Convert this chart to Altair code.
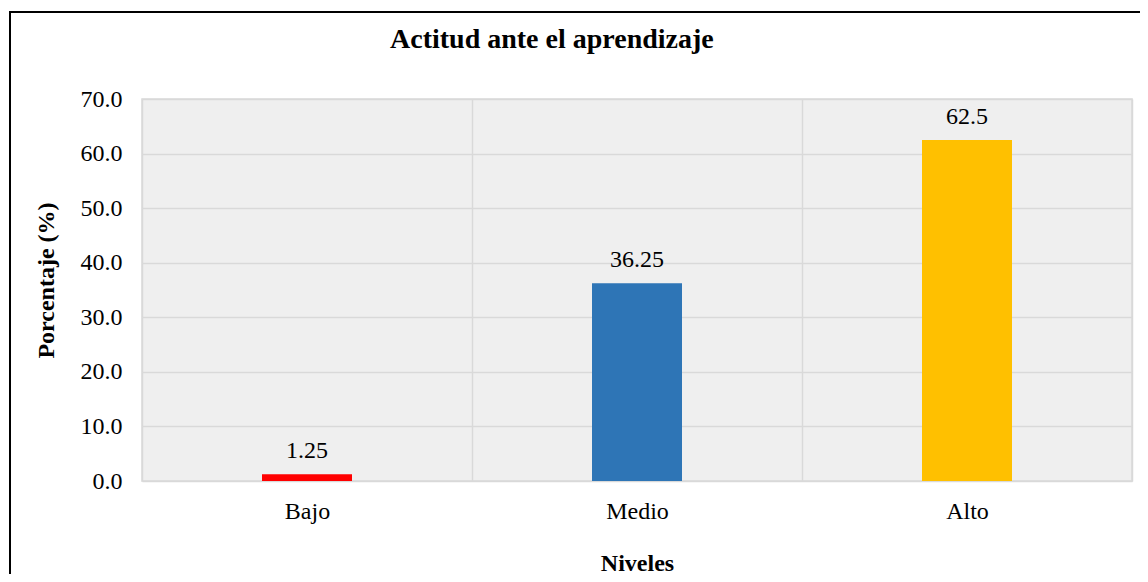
import altair as alt
import pandas as pd

niveles = ["Bajo", "Medio", "Alto"]
porcentajes = [1.25, 36.25, 62.5]
etiquetas = ["1.25", "36.25", "62.5"]
colores = ["#FF0000", "#2E75B6", "#FFC000"]
y_ticks = [0, 10, 20, 30, 40, 50, 60, 70]

df = pd.DataFrame({"Nivel": niveles, "Porcentaje": porcentajes, "Etiqueta": etiquetas})

FONT = "Liberation Serif"
GRID = "#d9d9d9"

x_enc = alt.X(
    "Nivel:N",
    sort=niveles,
    scale=alt.Scale(paddingInner=0, paddingOuter=0),
    axis=alt.Axis(
        title="Niveles",
        tickBand="extent",
        grid=True,
        ticks=False,
        domain=False,
        labelAngle=0,
        labelFont=FONT,
        labelFontSize=24,
        labelColor="#000000",
        labelPadding=18,
        titleFont=FONT,
        titleFontSize=24,
        titleFontWeight="bold",
        titleColor="#000000",
        titlePadding=28,
    ),
)

y_enc = alt.Y(
    "Porcentaje:Q",
    scale=alt.Scale(domain=[0, 70], nice=False),
    axis=alt.Axis(
        title="Porcentaje (%)",
        values=y_ticks,
        format=".1f",
        grid=True,
        ticks=False,
        domain=False,
        labelFont=FONT,
        labelFontSize=24,
        labelColor="#000000",
        labelPadding=20,
        titleFont=FONT,
        titleFontSize=24,
        titleFontWeight="bold",
        titleColor="#000000",
        titlePadding=22,
        titleY=181,
    ),
)

bars = alt.Chart(df).mark_bar(size=90).encode(
    x=x_enc,
    y=y_enc,
    color=alt.Color("Nivel:N", scale=alt.Scale(domain=niveles, range=colores), legend=None),
)

labels = alt.Chart(df).mark_text(
    dy=-16, baseline="alphabetic", font=FONT, fontSize=24, color="#000000"
).encode(
    x=alt.X("Nivel:N", sort=niveles),
    y="Porcentaje:Q",
    text="Etiqueta:N",
)

frame = alt.Chart(pd.DataFrame({"k": [0]})).mark_rect(
    filled=False, stroke="#000000", strokeWidth=2
).encode(
    x=alt.value(-132),
    x2=alt.value(1100),
    y=alt.value(-87),
    y2=alt.value(600),
)

chart = alt.layer(bars, labels, frame).properties(
    width=990,
    height=382,
    autosize=alt.AutoSizeParams(type="none"),
    padding={"left": 134, "top": 91, "right": 8, "bottom": 93},
    title=alt.TitleParams(
        "Actitud ante el aprendizaje",
        font=FONT,
        fontSize=28,
        fontWeight="bold",
        color="#000000",
        anchor="start",
        frame="group",
        dx=248,
        baseline="alphabetic",
        offset=-65,
    ),
).configure(
    background="#ffffff"
).configure_view(
    fill="#efefef", stroke=GRID, strokeWidth=1.5
).configure_axis(
    gridColor=GRID, gridWidth=1.5, gridOpacity=1
)

chart.save("out.html", embed_options={"renderer": "svg", "actions": False})
